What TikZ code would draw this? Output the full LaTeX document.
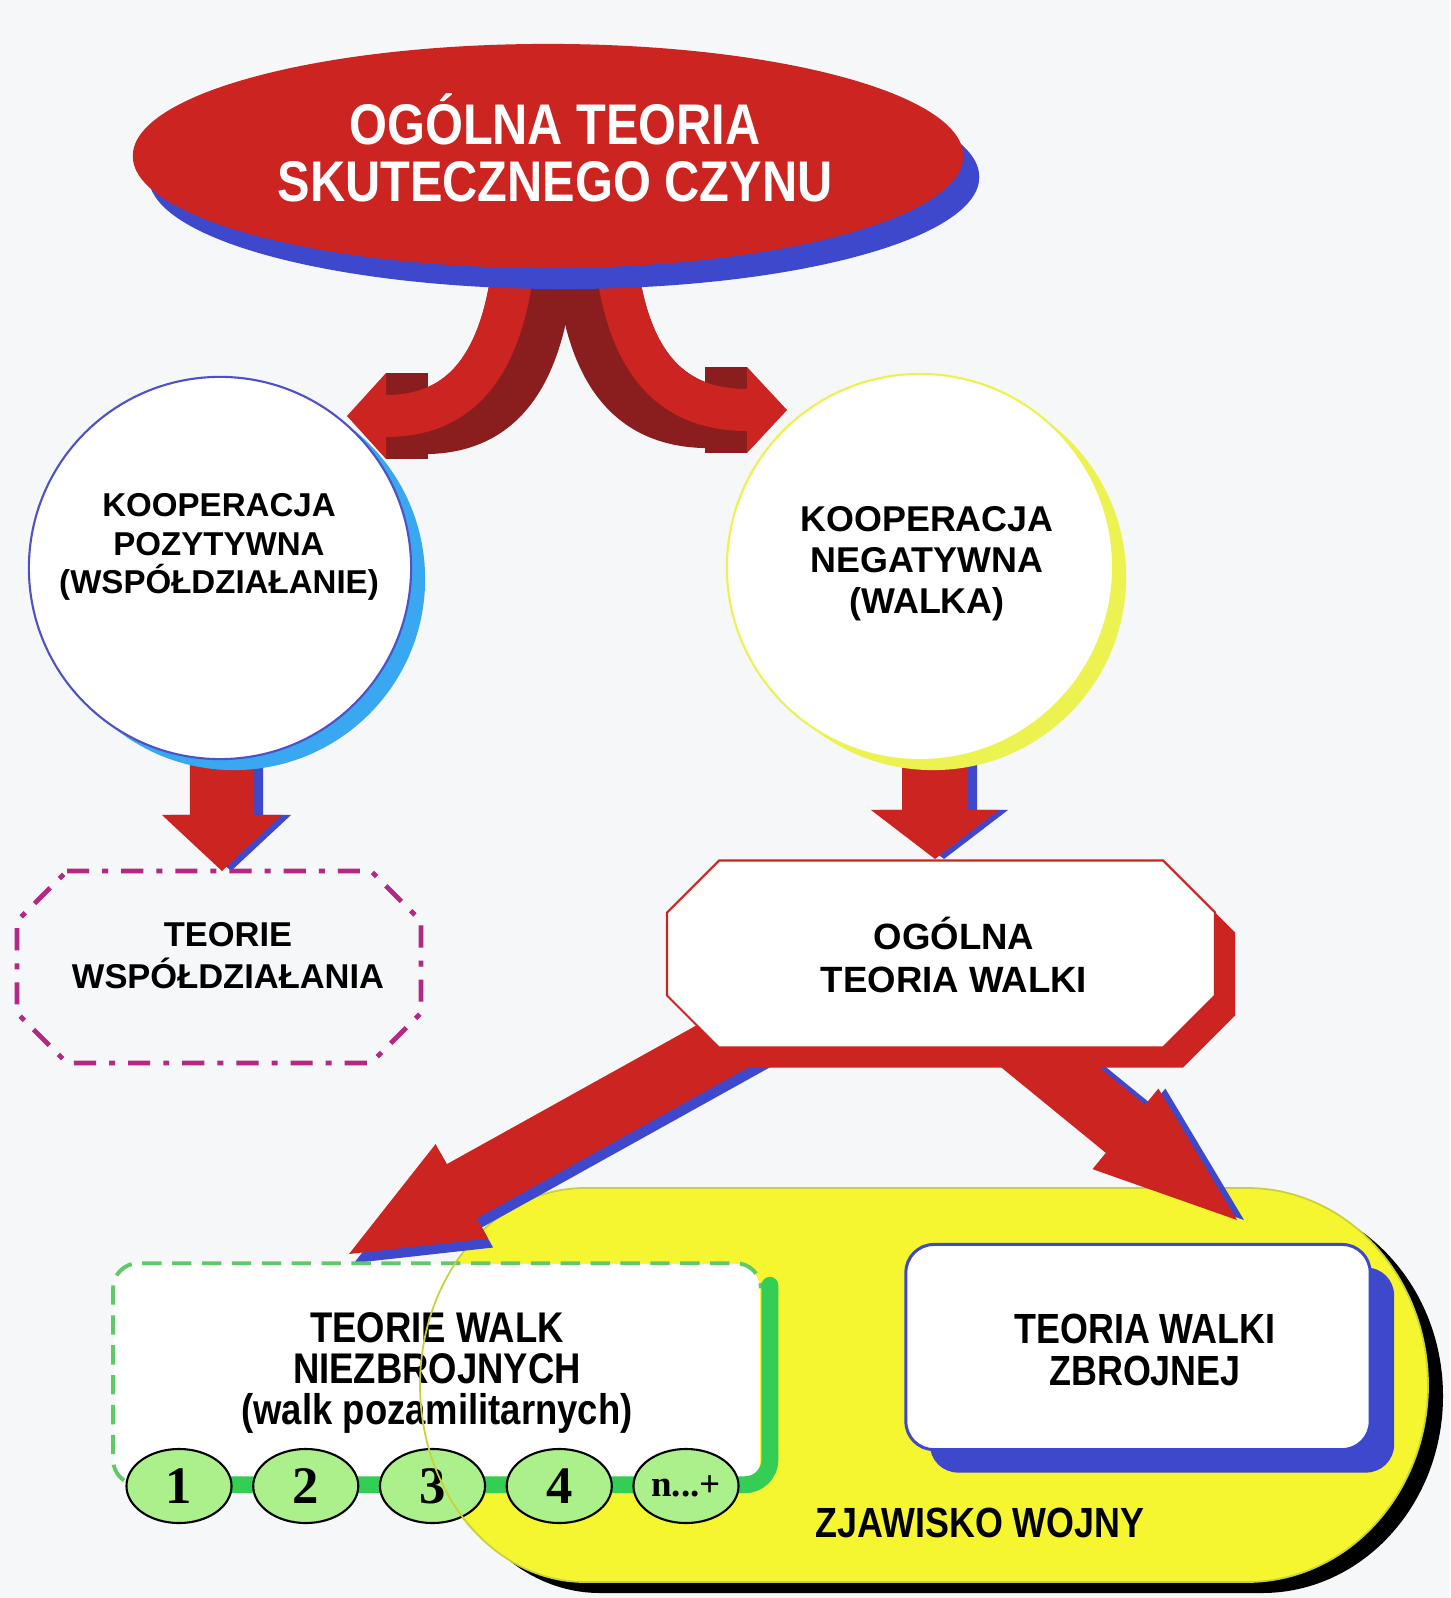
\documentclass[tikz,border=0pt]{standalone}
\usepackage{fontspec}
\setmainfont{Liberation Sans}
\newfontfamily\narrowfont[FakeStretch=0.85]{Liberation Sans}
\newfontfamily\numfont{Liberation Serif}
\usetikzlibrary{calc}
\usetikzlibrary{shapes.geometric}
\usetikzlibrary{shadows}

\definecolor{tablered}{RGB}{204,36,32}
\definecolor{legshade}{RGB}{138,30,30}
\definecolor{shadeblue}{RGB}{62,72,204}
\definecolor{skyblue}{RGB}{58,168,240}
\definecolor{ringblue}{RGB}{80,80,200}
\definecolor{lemon}{RGB}{246,246,48}
\definecolor{ringyellow}{RGB}{236,242,80}
\definecolor{edgeyellow}{RGB}{200,208,60}
\definecolor{grassgreen}{RGB}{52,206,84}
\definecolor{dashgreen}{RGB}{96,200,104}
\definecolor{palegreen}{RGB}{172,240,140}
\definecolor{plum}{RGB}{178,40,130}
\definecolor{paper}{RGB}{246,247,249}

% block arrow: [style] start, tip, half shaft, half head, head length
\newcommand\fatarrow[6][]{%
  \path (#2) coordinate (fa-s) (#3) coordinate (fa-t);
  \path ($(fa-t)!#6!(fa-s)$) coordinate (fa-h);
  \fill[#1] ($(fa-s)!#4!90:(fa-t)$) -- ($(fa-h)!#4!90:(fa-t)$)
    -- ($(fa-h)!#5!90:(fa-t)$) -- (fa-t)
    -- ($(fa-h)!#5!-90:(fa-t)$) -- ($(fa-h)!#4!-90:(fa-t)$)
    -- ($(fa-s)!#4!-90:(fa-t)$) -- cycle;}

% octagon: [style] centre x, centre y, width, height, chamfer
\newcommand\octagon[6][]{%
  \draw[#1] (#2-#4/2+#6,#3-#5/2) -- (#2+#4/2-#6,#3-#5/2) -- (#2+#4/2,#3-#5/2+#6)
    -- (#2+#4/2,#3+#5/2-#6) -- (#2+#4/2-#6,#3+#5/2) -- (#2-#4/2+#6,#3+#5/2)
    -- (#2-#4/2,#3+#5/2-#6) -- (#2-#4/2,#3-#5/2+#6) -- cycle;}

\begin{document}
\begin{tikzpicture}[x=0.01cm, y=-0.01cm,
  leg/.style={line width=11.95pt},
  lbl/.style={align=center, inner sep=0pt},
  num/.style={ellipse, draw=black, line width=0.6pt, fill=palegreen,
    minimum width=1.05cm, minimum height=0.74cm, inner sep=0pt,
    font=\numfont\bfseries\fontsize{15}{15}\selectfont}]

\useasboundingbox (0,0) rectangle (1450,1598);
\fill[paper] (0,0) rectangle (1450,1598);

% legs under the top ellipse
\foreach \t in {0,0.05,...,1}{
  \draw[legshade, leg, shift={(40*\t,18*\t)}] (515,250) .. controls (505,360) and (465,416) .. (386,416);
  \draw[legshade, leg, shift={(-40*\t,18*\t)}] (615,250) .. controls (625,355) and (665,410) .. (747,410);
}
\fill[legshade] (386,373) rectangle (428,459);
\fill[legshade] (705,367) rectangle (747,453);
\draw[tablered, leg] (515,250) .. controls (505,360) and (465,416) .. (386,416);
\draw[tablered, leg] (615,250) .. controls (625,355) and (665,410) .. (747,410);
\fill[tablered] (386,373) -- (347,416) -- (386,459) -- cycle;
\fill[tablered] (747,367) -- (787,410) -- (747,453) -- cycle;

\node[ellipse, fill=tablered, minimum width=8.3cm, minimum height=2.24cm, inner sep=0pt,
  copy shadow={shadow xshift=0.16cm, shadow yshift=-0.21cm, fill=shadeblue, draw=none}] (ogolna) at (548,156) {};
\node[lbl, text=white, font=\narrowfont\bfseries\fontsize{16.3}{16}\selectfont] (ogolna-t) at (555,148)
  {OGÓLNA TEORIA\\SKUTECZNEGO CZYNU};

% arrows down from the circles
\coordinate (dl-s) at (222,700);
\coordinate (dl-t) at (222,871);
\coordinate (dr-s) at (935,700);
\coordinate (dr-t) at (935,859);
\fatarrow[shadeblue]{$(dl-s)+(9,0)$}{$(dl-t)+(9,0)$}{0.32cm}{0.6cm}{0.56cm}
\fatarrow[tablered]{dl-s}{dl-t}{0.32cm}{0.6cm}{0.56cm}
\fatarrow[shadeblue]{$(dr-s)+(9,0)$}{$(dr-t)+(9,0)$}{0.33cm}{0.64cm}{0.49cm}
\fatarrow[tablered]{dr-s}{dr-t}{0.33cm}{0.64cm}{0.49cm}

\node[circle, fill=white, draw=ringblue, line width=0.6pt, minimum size=3.82cm, inner sep=0pt,
  copy shadow={shadow xshift=0.14cm, shadow yshift=-0.11cm, fill=skyblue, draw=none}] (kp) at (220,568) {};
\node[lbl, font=\bfseries\fontsize{9.4}{11}\selectfont] (kp-t) at (219,547)
  {KOOPERACJA\\POZYTYWNA\\(WSPÓŁDZIAŁANIE)};

\node[circle, fill=white, draw=ringyellow, line width=0.6pt, minimum size=3.86cm, inner sep=0pt,
  copy shadow={shadow xshift=0.13cm, shadow yshift=-0.10cm, fill=ringyellow, draw=none}] (kn) at (920,567) {};
\node[lbl, font=\bfseries\fontsize{10.2}{11.7}\selectfont] (kn-t) at (927,564)
  {KOOPERACJA\\NEGATYWNA\\(WALKA)};

% teorie wspoldzialania
\octagon[draw=plum, line width=1.4pt, dash pattern=on 6.3pt off 3.7pt on 1.7pt off 3.7pt]{219}{967}{404}{192}{50}
\node[lbl, font=\bfseries\fontsize{9.8}{12}\selectfont] (tw) at (228,956)
  {TEORIE\\WSPÓŁDZIAŁANIA};

% zjawisko wojny
\fill[black, shift={(15,11)}] (585,1188) -- (1247,1188) arc[start angle=-90, end angle=90, x radius=181, y radius=197]
  -- (585,1582) arc[start angle=90, end angle=270, x radius=165, y radius=197] -- cycle;
\filldraw[fill=lemon, draw=edgeyellow, line width=0.5pt] (585,1188) -- (1247,1188)
  arc[start angle=-90, end angle=90, x radius=181, y radius=197]
  -- (585,1582) arc[start angle=90, end angle=270, x radius=165, y radius=197] -- cycle;

% arrows out of the general theory of fight
\coordinate (lw-s) at (770,1020);
\coordinate (lw-t) at (349,1254);
\coordinate (rw-s) at (980,1010);
\coordinate (rw-t) at (1237,1220);
\fatarrow[shadeblue]{$(lw-s)+(5,9)$}{$(lw-t)+(5,9)$}{0.31cm}{0.54cm}{1.29cm}
\fatarrow[tablered]{lw-s}{lw-t}{0.31cm}{0.54cm}{1.29cm}
\fatarrow[shadeblue]{$(rw-s)+(7,0)$}{$(rw-t)+(7,0)$}{0.31cm}{0.52cm}{1.44cm}
\fatarrow[tablered]{rw-s}{rw-t}{0.31cm}{0.52cm}{1.44cm}

\octagon[fill=tablered, draw=none]{961}{974}{548}{187}{52}
\octagon[fill=white, draw=tablered, line width=0.6pt]{941}{954}{548}{187}{52}
\node[lbl, font=\bfseries\fontsize{10.4}{12.2}\selectfont] (otw) at (954,955)
  {OGÓLNA\\TEORIA WALKI};

% walki niezbrojne
\node[rectangle, rounded corners=0.25cm, fill=white, minimum width=6.46cm, minimum height=2.2cm] (twn) at (437,1374) {};
\draw[dashgreen, line width=1.1pt, dash pattern=on 5.5pt off 3pt, rounded corners=0.25cm]
  ($(twn.south west)+(40,0)$) -- (twn.south west) -- (twn.north west) -- (twn.north east) -- ($(twn.north east)+(0,24)$);
\draw[grassgreen, line width=4.8pt, line cap=round, rounded corners=0.25cm]
  ($(twn.north east)+(9,22)$) -- ($(twn.south east)+(9,0)$) -- ($(twn.south west)+(60,0)$);
\node[lbl, font=\narrowfont\bfseries\fontsize{12.2}{11.7}\selectfont] (twn-t) at (437,1373)
  {TEORIE WALK\\NIEZBROJNYCH\\(walk pozamilitarnych)};

\foreach \i in {1,...,4}
  \node[num] (e\i) at (52.25+126.75*\i,1486) {\i};
\node[num, font=\numfont\bfseries\fontsize{10.5}{10.5}\selectfont] (e5) at (686,1486) {n...+};

\begin{scope}
  \clip (100,1262) rectangle (800,1530);
  \draw[edgeyellow, line width=0.5pt] (585,1188) arc[start angle=270, end angle=90, x radius=165, y radius=197];
\end{scope}

% walka zbrojna
\node[rectangle, rounded corners=0.28cm, fill=white, draw=shadeblue, line width=0.85pt,
  minimum width=4.64cm, minimum height=2.05cm,
  copy shadow={shadow xshift=0.24cm, shadow yshift=-0.23cm, fill=shadeblue, draw=none}] (twz) at (1138,1347) {};
\node[lbl, font=\narrowfont\bfseries\fontsize{12}{11.7}\selectfont] (twz-t) at (1145,1350)
  {TEORIA WALKI\\ZBROJNEJ};

\node[anchor=base, inner sep=0pt, font=\narrowfont\bfseries\fontsize{12}{14}\selectfont] (zw) at (980,1537)
  {ZJAWISKO WOJNY};

\end{tikzpicture}
\end{document}
